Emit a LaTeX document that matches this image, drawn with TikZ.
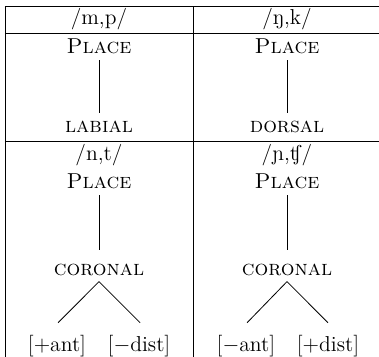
\documentclass[tikz,border=0pt]{standalone}
\usepackage{tipa}
\begin{document}
\begin{tikzpicture}[x=0.5556pt,y=-0.5556pt,
  lbl/.style={inner sep=0pt, anchor=base, font=\fontsize{12}{14}\selectfont},
  feat/.style={inner sep=0pt, anchor=base, font=\fontsize{12}{14}\selectfont},
  rulex/.style={line width=0.45pt},
  vbranch/.style={line width=0.45pt, shorten <=3.9pt},
  dbranch/.style={line width=0.45pt}]
\useasboundingbox (0,0) rectangle (379,357);
% table rules
\draw[rulex] (5,6) -- (379,6);
\draw[rulex] (5,33) -- (379,33);
\draw[rulex] (5,141) -- (379,141);
\draw[rulex] (5,6) -- (5,357);
\draw[rulex] (193,6) -- (193,357);
% headers
\node[lbl] (h1) at (99,24) {/m,p/};
\node[lbl] (h2) at (287,24) {/\textipa{N},k/};
\node[lbl] (h3) at (99,160) {/n,t/};
\node[lbl] (h4) at (287,160) {/\textipa{\textltailn},\textipa{\textteshlig}/};
% upper trees
\node[lbl] (p1) at (99,53) {\textsc{Place}};
\node[lbl] (l1) at (99,132) {\textsc{labial}};
\node[lbl] (p2) at (287,53) {\textsc{Place}};
\node[lbl] (d2) at (287,132) {\textsc{dorsal}};
\draw[vbranch, shorten >=3.9pt] (p1.base) -- (l1.north);
\draw[vbranch, shorten >=3.9pt] (p2.base) -- (d2.north);
% lower trees
\node[lbl] (p3) at (99,188) {\textsc{Place}};
\node[lbl] (c3) at (99,275) {\textsc{coronal}};
\node[feat] (a3) at (57,351) {[$+$ant]};
\node[feat] (b3) at (139,351) {[$-$dist]};
\coordinate (c3x) at ([yshift=-3.3pt]c3.south);
\coordinate (a3x) at ([xshift=0.6pt,yshift=6.5pt]a3.north);
\coordinate (b3x) at ([xshift=0.6pt,yshift=6.5pt]b3.north);
\draw[vbranch, shorten >=7.2pt] (p3.base) -- (c3.north);
\draw[dbranch] (a3x) -- (c3x) -- (b3x);
\node[lbl] (p4) at (287,188) {\textsc{Place}};
\node[lbl] (c4) at (287,275) {\textsc{coronal}};
\node[feat] (a4) at (246,351) {[$-$ant]};
\node[feat] (b4) at (328,351) {[$+$dist]};
\coordinate (c4x) at ([yshift=-3.3pt]c4.south);
\coordinate (a4x) at ([xshift=0.6pt,yshift=6.5pt]a4.north);
\coordinate (b4x) at ([xshift=0pt,yshift=6.5pt]b4.north);
\draw[vbranch, shorten >=7.2pt] (p4.base) -- (c4.north);
\draw[dbranch] (a4x) -- (c4x) -- (b4x);
\end{tikzpicture}
\end{document}
